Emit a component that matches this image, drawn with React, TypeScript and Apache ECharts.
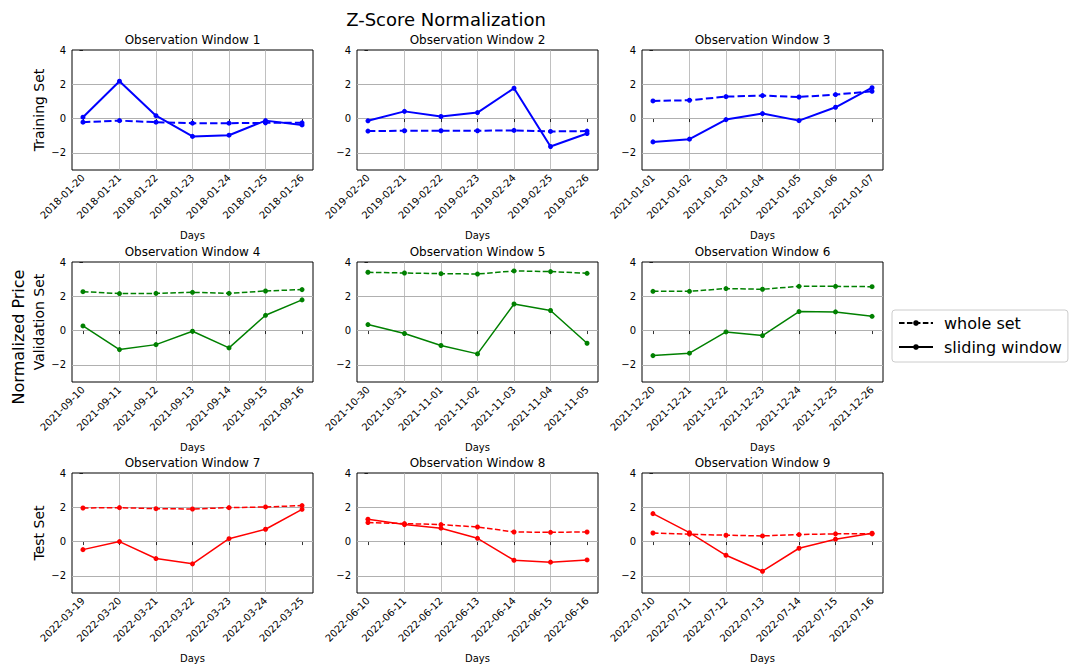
import React, { useEffect, useRef } from 'react';
import * as echarts from 'echarts';

const FONT = 'DejaVu Sans';

// ---- tick labels / categories ----
const dates1 = ['2018-01-20', '2018-01-21', '2018-01-22', '2018-01-23', '2018-01-24', '2018-01-25', '2018-01-26'];
const dates2 = ['2019-02-20', '2019-02-21', '2019-02-22', '2019-02-23', '2019-02-24', '2019-02-25', '2019-02-26'];
const dates3 = ['2021-01-01', '2021-01-02', '2021-01-03', '2021-01-04', '2021-01-05', '2021-01-06', '2021-01-07'];
const dates4 = ['2021-09-10', '2021-09-11', '2021-09-12', '2021-09-13', '2021-09-14', '2021-09-15', '2021-09-16'];
const dates5 = ['2021-10-30', '2021-10-31', '2021-11-01', '2021-11-02', '2021-11-03', '2021-11-04', '2021-11-05'];
const dates6 = ['2021-12-20', '2021-12-21', '2021-12-22', '2021-12-23', '2021-12-24', '2021-12-25', '2021-12-26'];
const dates7 = ['2022-03-19', '2022-03-20', '2022-03-21', '2022-03-22', '2022-03-23', '2022-03-24', '2022-03-25'];
const dates8 = ['2022-06-10', '2022-06-11', '2022-06-12', '2022-06-13', '2022-06-14', '2022-06-15', '2022-06-16'];
const dates9 = ['2022-07-10', '2022-07-11', '2022-07-12', '2022-07-13', '2022-07-14', '2022-07-15', '2022-07-16'];

const yTicks = [-2, 0, 2, 4];

// ---- series values ----
const whole1 = [-0.21, -0.12, -0.21, -0.27, -0.27, -0.25, -0.25];
const sliding1 = [0.08, 2.18, 0.17, -1.04, -0.97, -0.12, -0.37];
const whole2 = [-0.73, -0.71, -0.71, -0.71, -0.69, -0.75, -0.73];
const sliding2 = [-0.13, 0.42, 0.12, 0.35, 1.77, -1.63, -0.87];
const whole3 = [1.03, 1.07, 1.28, 1.34, 1.26, 1.4, 1.59];
const sliding3 = [-1.36, -1.2, -0.06, 0.29, -0.12, 0.66, 1.8];
const whole4 = [2.27, 2.16, 2.17, 2.23, 2.17, 2.31, 2.39];
const sliding4 = [0.27, -1.11, -0.82, -0.04, -1.01, 0.89, 1.79];
const whole5 = [3.4, 3.36, 3.32, 3.3, 3.48, 3.44, 3.34];
const sliding5 = [0.35, -0.17, -0.87, -1.36, 1.55, 1.17, -0.74];
const whole6 = [2.29, 2.29, 2.45, 2.41, 2.58, 2.58, 2.56];
const sliding6 = [-1.46, -1.32, -0.08, -0.29, 1.11, 1.09, 0.83];
const whole7 = [1.96, 1.98, 1.92, 1.9, 1.98, 2.02, 2.1];
const sliding7 = [-0.47, 0, -0.99, -1.3, 0.17, 0.72, 1.88];
const whole8 = [1.11, 1.05, 0.99, 0.85, 0.56, 0.54, 0.56];
const sliding8 = [1.3, 0.99, 0.78, 0.19, -1.09, -1.2, -1.07];
const whole9 = [0.5, 0.43, 0.37, 0.33, 0.41, 0.45, 0.45];
const sliding9 = [1.63, 0.52, -0.8, -1.73, -0.39, 0.14, 0.49];

const titles = [
  'Observation Window 1', 'Observation Window 2', 'Observation Window 3',
  'Observation Window 4', 'Observation Window 5', 'Observation Window 6',
  'Observation Window 7', 'Observation Window 8', 'Observation Window 9',
];
const rowLabels = ['Training Set', 'Validation Set', 'Test Set'];
const rowColors = ['#0000ff', '#008000', '#ff0000'];
const rowLineWidths = [2, 1.5, 1.5];

const allDates = [dates1, dates2, dates3, dates4, dates5, dates6, dates7, dates8, dates9];
const allWhole = [whole1, whole2, whole3, whole4, whole5, whole6, whole7, whole8, whole9];
const allSliding = [sliding1, sliding2, sliding3, sliding4, sliding5, sliding6, sliding7, sliding8, sliding9];

// ---- layout ----
const colLefts = [72, 357, 642];
const rowTops = [50, 262, 473];
const PW = 241;
const PH = 120;
const GRID_COLOR = '#b0b0b0';

function dashFor(lw: number) {
  return [3.7 * lw, 1.6 * lw];
}

function fmtY(v: number) {
  return v < 0 ? '\u2212' + Math.abs(v) : String(v);
}

function buildOption() {
  const grids: any[] = [];
  const xAxes: any[] = [];
  const yAxes: any[] = [];
  const series: any[] = [];
  const graphics: any[] = [];

  for (let i = 0; i < 9; i++) {
    const r = Math.floor(i / 3);
    const c = i % 3;
    const dates = allDates[i];
    const idx = dates.map((_, j) => j);
    const color = rowColors[r];
    const lw = rowLineWidths[r];
    grids.push({
      left: colLefts[c],
      top: rowTops[r],
      width: PW,
      height: PH,
      show: true,
      borderColor: '#000',
      borderWidth: 1,
      backgroundColor: 'transparent',
      containLabel: false,
      outerBoundsMode: 'none',
    });
    xAxes.push({
      type: 'value',
      gridIndex: i,
      min: -0.3,
      max: 6.3,
      minInterval: 1,
      maxInterval: 1,
      axisLine: { show: false },
      axisTick: {
        show: true,
        length: 3.5,
        customValues: idx,
        lineStyle: { color: '#000', width: 0.8 },
      },
      axisLabel: {
        customValues: idx,
        rotate: 45,
        margin: 6,
        fontSize: 10,
        fontFamily: FONT,
        color: '#000',
        formatter: (v: number) => (dates[v] !== undefined ? dates[v] : ''),
      },
      splitLine: {
        show: true,
        showMinLine: false,
        showMaxLine: false,
        lineStyle: { color: GRID_COLOR, width: 0.8 },
      },
      name: 'Days',
      nameLocation: 'middle',
      nameGap: 60,
      nameTextStyle: { fontSize: 10, fontFamily: FONT, color: '#000' },
    });
    yAxes.push({
      type: 'value',
      gridIndex: i,
      min: -3,
      max: 4,
      axisLine: { show: false },
      axisTick: {
        show: true,
        length: 3.5,
        customValues: yTicks,
        lineStyle: { color: '#000', width: 0.8 },
      },
      axisLabel: {
        customValues: yTicks,
        margin: 6,
        fontSize: 10,
        fontFamily: FONT,
        color: '#000',
        formatter: (v: number) => fmtY(v),
      },
      splitLine: { show: false },
    });
    series.push({
      type: 'line',
      name: 'whole ' + (i + 1),
      xAxisIndex: i,
      yAxisIndex: i,
      z: 10,
      data: allWhole[i].map((v, j) => [j, v]),
      symbol: 'circle',
      symbolSize: 5,
      showSymbol: true,
      silent: true,
      lineStyle: { color, width: lw, type: dashFor(lw) },
      itemStyle: { color },
      markLine: {
        silent: true,
        symbol: ['none', 'none'],
        label: { show: false },
        lineStyle: { color: GRID_COLOR, width: 1, type: 'solid' },
        data: yTicks.filter((v) => v > -3 && v < 4).map((v) => ({ yAxis: v })),
      },
    });
    series.push({
      type: 'line',
      name: 'sliding ' + (i + 1),
      xAxisIndex: i,
      yAxisIndex: i,
      z: 10,
      data: allSliding[i].map((v, j) => [j, v]),
      symbol: 'circle',
      symbolSize: 5,
      showSymbol: true,
      silent: true,
      lineStyle: { color, width: lw, type: 'solid' },
      itemStyle: { color },
    });
    graphics.push({
      type: 'text',
      x: colLefts[c] + PW / 2,
      y: rowTops[r] - 10,
      style: {
        text: titles[i],
        fontSize: 12,
        fontFamily: FONT,
        fill: '#000',
        align: 'center',
        verticalAlign: 'middle',
        textAlign: 'center',
        textVerticalAlign: 'middle',
      },
    });
  }

  // legend proxies
  series.push({
    type: 'line',
    name: 'whole set',
    xAxisIndex: 0,
    yAxisIndex: 0,
    data: [],
    symbol: 'circle',
    symbolSize: 4,
    lineStyle: { color: '#000', width: 1.5, type: dashFor(1.5) },
    itemStyle: { color: '#000' },
  });
  series.push({
    type: 'line',
    name: 'sliding window',
    xAxisIndex: 0,
    yAxisIndex: 0,
    data: [],
    symbol: 'circle',
    symbolSize: 4,
    lineStyle: { color: '#000', width: 1.5, type: 'solid' },
    itemStyle: { color: '#000' },
  });

  for (let r = 0; r < 3; r++) {
    graphics.push({
      type: 'text',
      x: 39,
      y: rowTops[r] + PH / 2,
      rotation: Math.PI / 2,
      style: {
        text: rowLabels[r],
        fontSize: 14,
        fontFamily: FONT,
        fill: '#000',
        align: 'center',
        verticalAlign: 'middle',
        textAlign: 'center',
        textVerticalAlign: 'middle',
      },
    });
  }
  graphics.push({
    type: 'text',
    x: 18,
    y: 337,
    rotation: Math.PI / 2,
    style: {
      text: 'Normalized Price',
      fontSize: 16,
      fontFamily: FONT,
      fill: '#000',
      align: 'center',
      verticalAlign: 'middle',
      textAlign: 'center',
      textVerticalAlign: 'middle',
    },
  });
  graphics.push({
    type: 'text',
    x: 446,
    y: 19,
    style: {
      text: 'Z-Score Normalization',
      fontSize: 18,
      fontFamily: FONT,
      fill: '#000',
      align: 'center',
      verticalAlign: 'middle',
      textAlign: 'center',
      textVerticalAlign: 'middle',
    },
  });

  return {
    animation: false,
    backgroundColor: '#fff',
    textStyle: { fontFamily: FONT },
    grid: grids,
    xAxis: xAxes,
    yAxis: yAxes,
    series,
    graphic: graphics,
    legend: {
      data: ['whole set', 'sliding window'],
      orient: 'vertical',
      left: 892,
      top: 310,
      padding: [4, 6, 6, 6],
      itemWidth: 34,
      itemHeight: 7,
      itemGap: 6,
      borderColor: '#cccccc',
      borderWidth: 1,
      borderRadius: 3,
      selectedMode: false,
      textStyle: { fontSize: 16, fontFamily: FONT, color: '#000', lineHeight: 18, padding: [0, 0, 0, 6] },
    },
  };
}

export default function App() {
  const ref = useRef<HTMLDivElement>(null);
  useEffect(() => {
    const chart = echarts.init(ref.current!, null, { renderer: 'svg' });
    chart.setOption(buildOption() as any);
    return () => chart.dispose();
  }, []);
  return (
    <div
      ref={ref}
      style={{ position: 'fixed', left: 0, top: 0, width: 1070, height: 666, background: '#fff' }}
    />
  );
}
